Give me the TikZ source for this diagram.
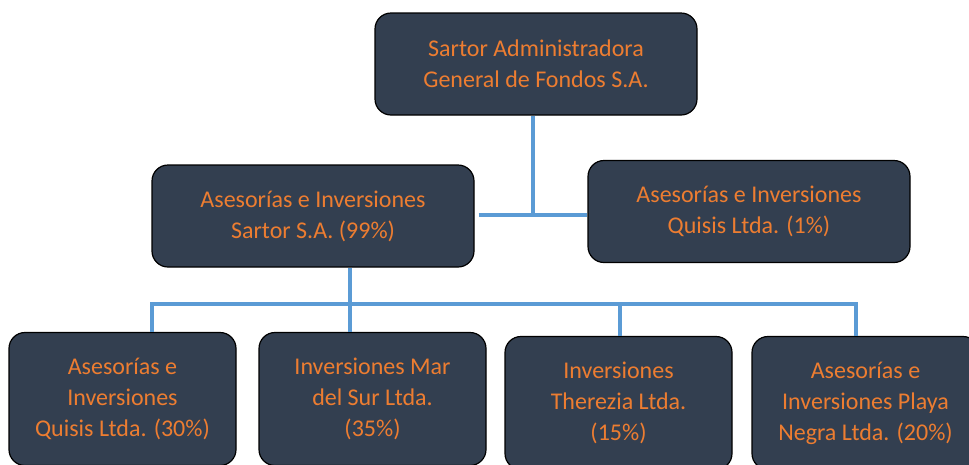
\documentclass[tikz,border=0pt]{standalone}
\usepackage{fontspec}
\setmainfont{Carlito}
\definecolor{boxfill}{HTML}{333F50}
\definecolor{boxtext}{HTML}{ED7D31}
\definecolor{linkblue}{HTML}{5B9BD5}
\usetikzlibrary{positioning, calc}

\begin{document}
\begin{tikzpicture}[x=1pt, y=-1pt,
  org/.style={draw=black, line width=1.2pt, fill=boxfill, text=boxtext, rounded corners=16pt, align=center, font=\fontsize{24}{31}\selectfont, inner sep=0pt, minimum width=322pt, minimum height=102pt},
  leaf/.style={org, minimum width=227pt, minimum height=133pt},
  link/.style={draw=linkblue, line width=4pt},
]
  \useasboundingbox (0,0) rectangle (969,464);
  % top level
  \node[org] (admin) at (536,64) {Sartor Administradora\\General de Fondos S.A.};
  \node[org] (sartor) at (313,216) {Asesorías e Inversiones\\Sartor S.A. (99\%)};
  \node[org] (quisisB) at (749,211.5) {Asesorías e Inversiones\\Quisis Ltda. (1\%)};
  % subsidiaries
  \node[leaf] (quisisA) at (122.5,399) {Asesorías e\\Inversiones\\Quisis Ltda. (30\%)};
  \node[leaf] (marsur) at (372.5,399) {Inversiones Mar\\del Sur Ltda.\\(35\%)};
  \node[leaf] (therezia) at (618.5,403) {Inversiones\\Therezia Ltda.\\(15\%)};
  \node[leaf] (playa) at (865.5,403) {Asesorías e\\Inversiones Playa\\Negra Ltda. (20\%)};

  \coordinate (hub) at (533,215);
  \coordinate (bus) at (350,304);
  \draw[link] (admin.south -| hub) -- (hub);
  \draw[link] ($(hub -| sartor.east)+(4,0)$) -- (hub -| quisisB.west);
  \draw[link] (sartor.south -| bus) -- (bus);
  \foreach \n/\x [count=\i] in {quisisA/152, marsur/350, therezia/620, playa/856}
    \coordinate (d\i) at (\x,304);
  \draw[link] (quisisA.north -| d1) -- (d1) -- (d4) -- (playa.north -| d4);
  \draw[link] (d2) -- (marsur.north -| d2);
  \draw[link] (d3) -- (therezia.north -| d3);
\end{tikzpicture}
\end{document}
